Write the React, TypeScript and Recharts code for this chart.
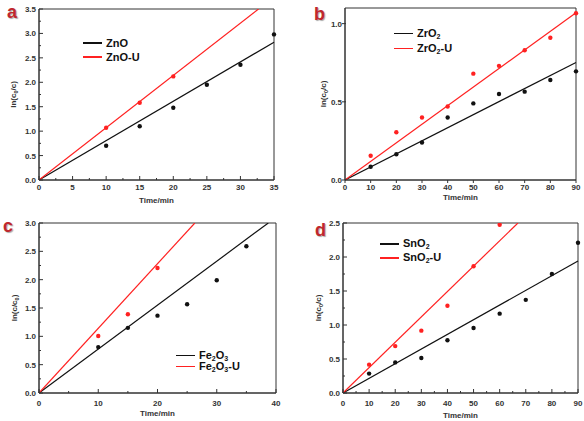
import React from "react";
import { ComposedChart, Line, Scatter, XAxis, YAxis, ReferenceArea } from "recharts";

// ---- panel a: ZnO ----
const timeZnO = [10, 15, 20, 25, 30, 35];
const lnZnO = [0.7, 1.1, 1.48, 1.95, 2.36, 2.98];
const timeZnOU = [10, 15, 20];
const lnZnOU = [1.07, 1.58, 2.12];
const fitTimeZnO = [0, 35];
const fitZnO = [0, 2.82];
const fitTimeZnOU = [0, 32.7];
const fitZnOU = [0, 3.5];

// ---- panel b: ZrO2 ----
const timeZrO2 = [10, 20, 30, 40, 50, 60, 70, 80, 90];
const lnZrO2 = [0.085, 0.165, 0.24, 0.4, 0.49, 0.55, 0.565, 0.64, 0.695];
const lnZrO2U = [0.155, 0.305, 0.4, 0.47, 0.68, 0.73, 0.83, 0.91, 1.066];
const fitTimeZrO2 = [0, 90];
const fitZrO2 = [0, 0.752];
const fitZrO2U = [0, 1.07];

// ---- panel c: Fe2O3 ----
const timeFe2O3 = [10, 15, 20, 25, 30, 35];
const lnFe2O3 = [0.81, 1.15, 1.365, 1.565, 1.99, 2.59];
const timeFe2O3U = [10, 15, 20];
const lnFe2O3U = [1.005, 1.39, 2.205];
const fitTimeFe2O3 = [0, 38.7];
const fitFe2O3 = [0, 3.0];
const fitTimeFe2O3U = [0, 26.3];
const fitFe2O3U = [0, 3.0];

// ---- panel d: SnO2 ----
const timeSnO2 = [10, 20, 30, 40, 50, 60, 70, 80, 90];
const lnSnO2 = [0.285, 0.45, 0.515, 0.775, 0.955, 1.167, 1.37, 1.75, 2.21];
const timeSnO2U = [10, 20, 30, 40, 50, 60];
const lnSnO2U = [0.417, 0.69, 0.917, 1.284, 1.863, 2.475];
const fitTimeSnO2 = [0, 90];
const fitSnO2 = [0, 1.94];
const fitTimeSnO2U = [0, 67];
const fitSnO2U = [0, 2.5];

// ---- tick lists ----
const ticksX35 = [0, 2.5, 5, 7.5, 10, 12.5, 15, 17.5, 20, 22.5, 25, 27.5, 30, 32.5, 35];
const ticksX40 = [0, 5, 10, 15, 20, 25, 30, 35, 40];
const ticksX90 = [0, 5, 10, 15, 20, 25, 30, 35, 40, 45, 50, 55, 60, 65, 70, 75, 80, 85, 90];
const ticksX90b = [0, 10, 20, 30, 40, 50, 60, 70, 80, 90];
const ticksY35 = [0, 0.25, 0.5, 0.75, 1, 1.25, 1.5, 1.75, 2, 2.25, 2.5, 2.75, 3, 3.25, 3.5];
const ticksY11 = [0, 0.5, 1.0];
const ticksY30 = [0, 0.25, 0.5, 0.75, 1, 1.25, 1.5, 1.75, 2, 2.25, 2.5, 2.75, 3];
const ticksY25 = [0, 0.25, 0.5, 0.75, 1, 1.25, 1.5, 1.75, 2, 2.25, 2.5];

const BLACK = "#111";
const RED = "#ff2121";
const AXIS = "#333";
const FONT = "'Liberation Sans', Arial, sans-serif";

const pts = (xs: number[], ys: number[]) => xs.map((t, i) => ({ t, v: ys[i] }));

const isMajor = (v: number, step: number) => Math.abs(v / step - Math.round(v / step)) < 1e-6;

const XTick = ({ x, y, payload, major, inward, dyLabel }: any) => {
  const big = isMajor(payload.value, major);
  const len = big ? 4 : 2;
  return (
    <g>
      <line x1={x} x2={x} y1={y} y2={inward ? y - len : y + 3} stroke={AXIS} strokeWidth={1} />
      {big && (
        <text x={x} y={y + dyLabel} textAnchor="middle" fontSize={8} fontWeight="bold" fill={AXIS} fontFamily={FONT}>
          {payload.value}
        </text>
      )}
    </g>
  );
};

const YTick = ({ x, y, payload, major, inward }: any) => {
  const big = isMajor(payload.value, major);
  const len = big ? 4 : 2;
  return (
    <g>
      <line x1={inward ? x : x - 3} x2={inward ? x + len : x + 1} y1={y} y2={y} stroke={AXIS} strokeWidth={1} />
      {big && (
        <text x={x - 3} y={y + 3} textAnchor="end" fontSize={8} fontWeight="bold" fill={AXIS} fontFamily={FONT}>
          {payload.value.toFixed(1)}
        </text>
      )}
    </g>
  );
};

const Dot = (color: string) => (p: any) => <circle cx={p.cx} cy={p.cy} r={2.2} fill={color} />;

type PanelProps = {
  left: number;
  top: number;
  width: number;
  height: number;
  margin: any;
  yWidth: number;
  xHeight: number;
  xDomain: number[];
  yDomain: number[];
  xTicks: number[];
  yTicks: number[];
  xMajor: number;
  yMajor: number;
  inward: boolean;
  xLabelDy: number;
  xTitleDy: number;
  yTitleX: number;
  inverse?: boolean;
  black: any[];
  red: any[];
  blackFit: any[];
  redFit: any[];
};

const Panel = (p: PanelProps) => {
  const yTitle = ({ viewBox }: any) => {
    const cy = viewBox.y + viewBox.height / 2;
    const cx = p.yTitleX;
    return (
      <text
        x={cx}
        y={cy}
        transform={`rotate(-90, ${cx}, ${cy})`}
        textAnchor="middle"
        fontSize={8}
        fontWeight="bold"
        fill={AXIS}
        fontFamily={FONT}
      >
        {p.inverse ? (
          <>
            ln(c/c<tspan fontSize={5.5} dy={1.5}>0</tspan>
            <tspan dy={-1.5}>)</tspan>
          </>
        ) : (
          <>
            ln(c<tspan fontSize={5.5} dy={1.5}>0</tspan>
            <tspan dy={-1.5}>/c)</tspan>
          </>
        )}
      </text>
    );
  };
  const xTitle = ({ viewBox }: any) => (
    <text
      x={viewBox.x + viewBox.width / 2}
      y={viewBox.y + p.xTitleDy}
      textAnchor="middle"
      fontSize={8}
      fontWeight="bold"
      fill={AXIS}
      fontFamily={FONT}
    >
      Time/min
    </text>
  );
  return (
    <div style={{ position: "absolute", left: p.left, top: p.top }}>
      <ComposedChart width={p.width} height={p.height} margin={p.margin}>
        <XAxis
          type="number"
          dataKey="t"
          domain={p.xDomain}
          ticks={p.xTicks}
          interval={0}
          height={p.xHeight}
          tickSize={0}
          tickMargin={0}
          tickLine={false}
          axisLine={{ stroke: AXIS }}
          tick={(tp: any) => <XTick {...tp} major={p.xMajor} inward={p.inward} dyLabel={p.xLabelDy} />}
          label={{ content: xTitle }}
        />
        <YAxis
          type="number"
          dataKey="v"
          domain={p.yDomain}
          ticks={p.yTicks}
          interval={0}
          width={p.yWidth}
          tickSize={0}
          tickMargin={0}
          tickLine={false}
          axisLine={{ stroke: AXIS }}
          allowDataOverflow
          tick={(tp: any) => <YTick {...tp} major={p.yMajor} inward={p.inward} />}
          label={{ content: yTitle }}
        />
        <ReferenceArea
          x1={p.xDomain[0]}
          x2={p.xDomain[1]}
          y1={p.yDomain[0]}
          y2={p.yDomain[1]}
          fill="none"
          fillOpacity={0}
          stroke={AXIS}
          strokeWidth={1}
        />
        <Line data={p.blackFit} dataKey="v" stroke={BLACK} strokeWidth={1.2} dot={false} isAnimationActive={false} />
        <Line data={p.redFit} dataKey="v" stroke={RED} strokeWidth={1.2} dot={false} isAnimationActive={false} />
        <Scatter data={p.black} dataKey="v" shape={Dot(BLACK)} isAnimationActive={false} />
        <Scatter data={p.red} dataKey="v" shape={Dot(RED)} isAnimationActive={false} />
      </ComposedChart>
    </div>
  );
};

const LegendBox = ({ left, top, gap, items }: any) => (
  <div style={{ position: "absolute", left, top, fontFamily: FONT, fontWeight: "bold", fontSize: 11, color: "#111" }}>
    {items.map((it: any, i: number) => (
      <div key={i} style={{ display: "flex", alignItems: "center", height: gap, lineHeight: `${gap}px` }}>
        <span style={{ display: "inline-block", width: 19, height: 1.6, background: it.color, marginRight: 4 }} />
        <span>{it.label}</span>
      </div>
    ))}
  </div>
);

const Sub = ({ children }: any) => (
  <span style={{ fontSize: 7, position: "relative", top: 2 }}>{children}</span>
);

const Letter = ({ left, top, children }: any) => (
  <div
    style={{
      position: "absolute",
      left,
      top,
      fontFamily: FONT,
      fontWeight: "bold",
      fontSize: 18,
      lineHeight: "18px",
      color: "#c0272d",
      textShadow: "1px 1px 1px #aaa",
    }}
  >
    {children}
  </div>
);

export default function App() {
  return (
    <div style={{ position: "fixed", left: 0, top: 0, width: 584, height: 421, background: "#fff", overflow: "hidden" }}>
      <Panel
        left={0}
        top={0}
        width={292}
        height={210}
        margin={{ top: 9, right: 18, bottom: 0, left: 0 }}
        yWidth={39}
        xHeight={30}
        xDomain={[0, 35]}
        yDomain={[0, 3.5]}
        xTicks={ticksX35}
        yTicks={ticksY35}
        xMajor={5}
        yMajor={0.5}
        inward
        xLabelDy={10}
        xTitleDy={23}
        yTitleX={16}
        black={pts(timeZnO, lnZnO)}
        red={pts(timeZnOU, lnZnOU)}
        blackFit={pts(fitTimeZnO, fitZnO)}
        redFit={pts(fitTimeZnOU, fitZnOU)}
      />
      <Panel
        left={292}
        top={0}
        width={292}
        height={210}
        margin={{ top: 8, right: 8, bottom: 0, left: 0 }}
        yWidth={53}
        xHeight={30}
        xDomain={[0, 90]}
        yDomain={[0, 1.1]}
        xTicks={ticksX90b}
        yTicks={ticksY11}
        xMajor={10}
        yMajor={0.5}
        inward={false}
        xLabelDy={10}
        xTitleDy={20}
        yTitleX={34}
        black={pts(timeZrO2, lnZrO2)}
        red={pts(timeZrO2, lnZrO2U)}
        blackFit={pts(fitTimeZrO2, fitZrO2)}
        redFit={pts(fitTimeZrO2, fitZrO2U)}
      />
      <Panel
        left={0}
        top={210}
        width={292}
        height={211}
        margin={{ top: 13, right: 16, bottom: 0, left: 0 }}
        yWidth={39}
        xHeight={28}
        xDomain={[0, 40]}
        yDomain={[0, 3.0]}
        xTicks={ticksX40}
        yTicks={ticksY30}
        xMajor={10}
        yMajor={0.5}
        inward
        xLabelDy={13}
        xTitleDy={23}
        yTitleX={17}
        inverse
        black={pts(timeFe2O3, lnFe2O3)}
        red={pts(timeFe2O3U, lnFe2O3U)}
        blackFit={pts(fitTimeFe2O3, fitFe2O3)}
        redFit={pts(fitTimeFe2O3U, fitFe2O3U)}
      />
      <Panel
        left={292}
        top={210}
        width={292}
        height={211}
        margin={{ top: 13, right: 6, bottom: 0, left: 0 }}
        yWidth={51}
        xHeight={28}
        xDomain={[0, 90]}
        yDomain={[0, 2.5]}
        xTicks={ticksX90}
        yTicks={ticksY25}
        xMajor={10}
        yMajor={0.5}
        inward
        xLabelDy={13}
        xTitleDy={25}
        yTitleX={29}
        black={pts(timeSnO2, lnSnO2)}
        red={pts(timeSnO2U, lnSnO2U)}
        blackFit={pts(fitTimeSnO2, fitSnO2)}
        redFit={pts(fitTimeSnO2U, fitSnO2U)}
      />

      <LegendBox
        left={83}
        top={36}
        gap={14}
        items={[
          { color: BLACK, label: "ZnO" },
          { color: RED, label: "ZnO-U" },
        ]}
      />
      <LegendBox
        left={394}
        top={26}
        gap={15}
        items={[
          { color: BLACK, label: <>ZrO<Sub>2</Sub></> },
          { color: RED, label: <>ZrO<Sub>2</Sub>-U</> },
        ]}
      />
      <LegendBox
        left={176}
        top={350}
        gap={11}
        items={[
          { color: BLACK, label: <>Fe<Sub>2</Sub>O<Sub>3</Sub></> },
          { color: RED, label: <>Fe<Sub>2</Sub>O<Sub>3</Sub>-U</> },
        ]}
      />
      <LegendBox
        left={380}
        top={237}
        gap={14}
        items={[
          { color: BLACK, label: <>SnO<Sub>2</Sub></> },
          { color: RED, label: <>SnO<Sub>2</Sub>-U</> },
        ]}
      />

      <Letter left={7} top={3}>a</Letter>
      <Letter left={314} top={5}>b</Letter>
      <Letter left={3} top={217}>c</Letter>
      <Letter left={315} top={221}>d</Letter>
    </div>
  );
}
